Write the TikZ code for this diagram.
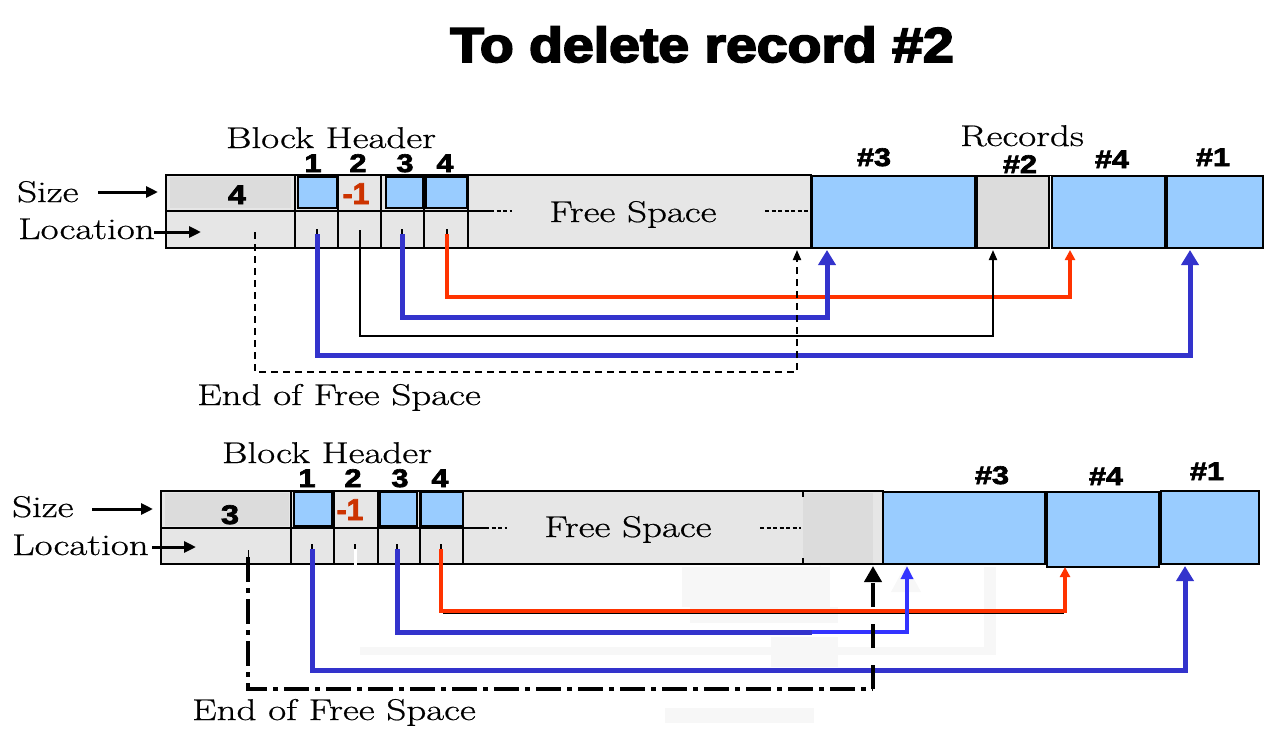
\documentclass[tikz,border=0pt]{standalone}
\usepackage{fontspec}
\usepackage{graphicx}
\usetikzlibrary{arrows.meta}
\newfontfamily\hv{Liberation Sans}[BoldFeatures={FakeBold=2.5}]
\newfontfamily\hvt{Liberation Sans}[BoldFeatures={FakeBold=3.5}]
\newfontfamily\ser{Latin Modern Roman}[FakeBold=0.6]
\definecolor{recblue}{HTML}{99CCFF}
\definecolor{cellgray}{HTML}{E6E6E6}
\definecolor{cellgrayB}{HTML}{DCDCDC}
\definecolor{ptrblue}{HTML}{3333CC}
\definecolor{ptrblueb}{HTML}{3333FF}
\definecolor{ptrred}{HTML}{FF3300}
\definecolor{minusred}{HTML}{CC3300}
\definecolor{ghost}{HTML}{F7F7F7}
\newcommand\sertext[1]{\ser\fontsize{30}{32}\selectfont\scalebox{1.3}[1]{#1}}
\newcommand\boldlab[2][25.5]{{\hv\bfseries\fontsize{#1}{#1}\selectfont\scalebox{1.2}[1]{#2}}}
\newcommand\minusone{{\hv\bfseries\fontsize{30}{30}\selectfont\color{minusred}\scalebox{1.0}[1]{-1}}}
\begin{document}
\begin{tikzpicture}[x=1pt,y=-1pt,
  serif/.style={anchor=base,inner sep=0pt},
  lab/.style={anchor=base,inner sep=0pt},
  frame/.style={draw=black,line width=2.5pt},
  cellline/.style={draw=black,line width=2pt},
  recbox/.style={draw=black,line width=2.5pt,fill=recblue},
  graybox/.style={draw=black,line width=2.5pt,fill=cellgrayB},
  fsdash/.style={line width=2pt,dash pattern=on 4pt off 2.5pt},
  tick/.style={line width=2pt},
  bigblue/.style={draw=ptrblue,line width=5pt,-{Triangle[width=17pt,length=15pt]}},
  redptr/.style={draw=ptrred,line width=3.5pt,-{Triangle[width=10pt,length=10pt]}},
  blackptr/.style={draw=black,line width=2pt,-{Triangle[width=8pt,length=10pt]}},
  lblarrow/.style={draw=black,line width=3pt,-{Triangle[width=11pt,length=12pt]}}]
\useasboundingbox (0,0) rectangle (1280,732);

% ---------------- title ----------------
\node[anchor=base,inner sep=0pt] (title) at (702,62)
  {\hvt\bfseries\fontsize{49}{50}\selectfont\scalebox{1.13}[1]{To delete record \#2}};

% ================= TOP DIAGRAM =================
\fill[cellgray] (166,175) rectangle (811,248);
\fill[cellgrayB] (170,177) rectangle (291,208);
\draw[frame] (166,175) rectangle (811,248);
\draw[cellline] (166,211) -- (490,211);
\draw[fsdash] (490,211) -- (512,211);
\draw[fsdash] (765,211) -- (811,211);
\foreach \x in {295,338,381,424,468} \draw[cellline] (\x,175) -- (\x,248);
\draw[recbox] (298,177) rectangle (337,208);
\draw[recbox] (386,177) rectangle (423,208);
\draw[recbox] (426,177) rectangle (467,208);
% records
\draw[line width=1pt] (811,175) -- (1263,175);
\draw[recbox] (812,176) rectangle (975,248);
\draw[graybox] (977,176) rectangle (1049,248);
\draw[recbox] (1052,176) rectangle (1165,248);
\draw[recbox] (1167,176) rectangle (1263,248);

% texts
\node[serif] (bh1) at (331,148) {\sertext{Block Header}};
\node[serif] (rec1) at (1022,146) {\sertext{Records}};
\node[serif,anchor=base west] (size1) at (17,202) {\sertext{Size}};
\node[serif,anchor=base west] (loc1) at (18,239) {\sertext{Location}};
\node[serif] (fs1) at (633,222) {\sertext{Free Space}};
\node[serif] (eofs1) at (339,405) {\sertext{End of Free Space}};
\node[lab] (n1a) at (313,172) {\boldlab{1}};
\node[lab] (n2a) at (358,172) {\boldlab{2}};
\node[lab] (n3a) at (405,172) {\boldlab{3}};
\node[lab] (n4a) at (445,172) {\boldlab{4}};
\node[lab] (cnt1) at (237,204) {\boldlab[27]{4}};
\node[lab] (del1) at (356,204) {\minusone};
\node[lab] (r3a) at (874,166) {\boldlab{\#3}};
\node[lab] (r2a) at (1020,173) {\boldlab{\#2}};
\node[lab] (r4a) at (1112,168) {\boldlab{\#4}};
\node[lab] (r1a) at (1213,166) {\boldlab{\#1}};

% label arrows
\coordinate (sA) at (98,192); \coordinate (sB) at (158,192);
\coordinate (lA) at (154,232); \coordinate (lB) at (201,232);
\draw[lblarrow] (sA) -- (sB);
\draw[lblarrow] (lA) -- (lB);

% pointer coordinates
\coordinate (p1) at (317,234); \coordinate (t1) at (1190,250);
\coordinate (p2) at (360,230); \coordinate (t2) at (993,250);
\coordinate (p3) at (402,234); \coordinate (t3) at (827,250);
\coordinate (p4) at (447,234); \coordinate (t4) at (1070,250);
\coordinate (pe) at (255,232); \coordinate (te) at (797,250);
\foreach \x in {317,402,447} \draw[tick] (\x,229) -- (\x,235);
\draw[redptr] (p4) |- (1070,297) -- (t4);
\draw[bigblue] (p3) |- (827,317) -- (t3);
\draw[blackptr] (p2) |- (993,336) -- (t2);
\draw[bigblue] (p1) |- (1190,355) -- (t1);
\draw[blackptr,dash pattern=on 7pt off 5pt] (pe) |- (797,372) -- (te);

% ================= BOTTOM DIAGRAM =================
% ghost patches (erased remains)
\fill[ghost] (682,567) rectangle (830,607);
\fill[ghost] (690,607) rectangle (838,623);
\fill[ghost] (771,637) rectangle (838,667);
\fill[ghost] (360,647) rectangle (992,655);
\fill[ghost] (984,567) rectangle (996,655);
\fill[ghost] (665,708) rectangle (814,723);
\fill[ghost] (820,565) -- (829,592) -- (811,592) -- cycle;
\fill[ghost] (906,564) -- (921,592) -- (891,592) -- cycle;

\fill[cellgray] (161,491) rectangle (883,564);
\fill[cellgrayB] (165,493) rectangle (289,526);
\fill[cellgrayB] (803,493) rectangle (873,563);
\draw[frame] (161,491) rectangle (883,564);
\draw[cellline] (161,528) -- (485,528);
\draw[fsdash] (485,528) -- (507,528);
\draw[fsdash] (760,528) -- (801,528);
\foreach \x in {291,334,378,420,463} \draw[cellline] (\x,491) -- (\x,564);
\draw[line width=1.5pt] (803,491) -- (803,497) (803,558) -- (803,564);
\draw[recbox] (294,492) rectangle (332,526);
\draw[recbox] (380,492) rectangle (417,526);
\draw[recbox] (421,492) rectangle (463,526);
% records
\draw[recbox] (883,492) rectangle (1045,564);
\draw[recbox] (1047,492) rectangle (1159,567);
\draw[recbox] (1161,491) rectangle (1259,564);

% texts
\node[serif] (bh2) at (327,463) {\sertext{Block Header}};
\node[serif,anchor=base west] (size2) at (12,517) {\sertext{Size}};
\node[serif,anchor=base west] (loc2) at (12,555) {\sertext{Location}};
\node[serif] (fs2) at (628,537) {\sertext{Free Space}};
\node[serif] (eofs2) at (334,720) {\sertext{End of Free Space}};
\node[lab] (n1b) at (307,487) {\boldlab{1}};
\node[lab] (n2b) at (353,487) {\boldlab{2}};
\node[lab] (n3b) at (400,487) {\boldlab{3}};
\node[lab] (n4b) at (440,487) {\boldlab{4}};
\node[lab] (cnt2) at (230,524) {\boldlab[27]{3}};
\node[lab] (del2) at (350,520) {\minusone};
\node[lab] (r3b) at (992,484) {\boldlab{\#3}};
\node[lab] (r4b) at (1106,485) {\boldlab{\#4}};
\node[lab] (r1b) at (1207,480) {\boldlab{\#1}};

% label arrows
\coordinate (sC) at (92,509); \coordinate (sD) at (153,509);
\coordinate (lC) at (152,547); \coordinate (lD) at (196,547);
\draw[lblarrow] (sC) -- (sD);
\draw[lblarrow] (lC) -- (lD);

% pointers
\coordinate (q1) at (312,549); \coordinate (u1) at (1185,566);
\coordinate (q3) at (397,549); \coordinate (u3) at (907,566);
\coordinate (q4) at (441,549); \coordinate (u4) at (1065,567);
\coordinate (qe) at (248,557); \coordinate (ue) at (873,566);
\coordinate (qm) at (873,689);
\coordinate (qb) at (812,632);
\foreach \x in {312,397,441,355} \draw[tick] (\x,544) -- (\x,550);
\draw[line width=1pt] (248,550) -- (248,558);
\draw[white,line width=3pt] (355,549) -- (355,568);
\draw[line width=1.2pt] (443,613.5) -- (1064,613.5);
\draw[redptr] (q4) |- (1065,611) -- (u4);
\draw[draw=ptrblue,line width=5pt] (q3) |- (qb);
\draw[draw=ptrblueb,line width=4pt,-{Triangle[width=12pt,length=13pt]}] (qb) -| (u3);
\draw[bigblue] (q1) |- (1185,670) -- (u1);
\draw[line width=3.5pt,dash pattern=on 25pt off 6pt on 5pt off 6pt] (qe) |- (qm);
\draw[line width=4.5pt,dash pattern=on 24pt off 17pt,-{Triangle[width=17pt,length=16pt]}] (qm) -- (ue);
\end{tikzpicture}
\end{document}
